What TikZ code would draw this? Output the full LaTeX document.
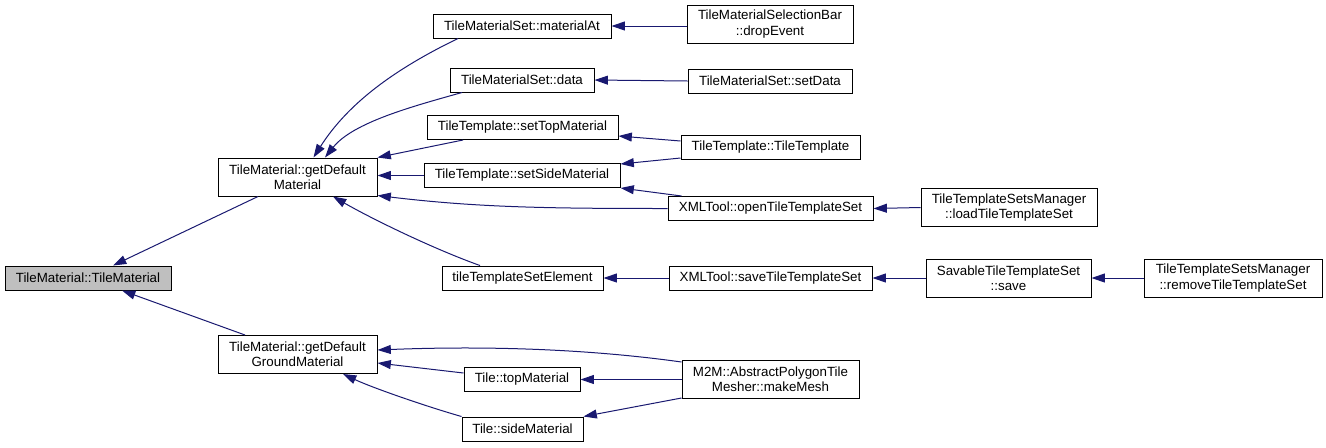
\documentclass[tikz,border=0pt]{standalone}
\usepackage{fontspec}
\setmainfont{Liberation Sans}
\usetikzlibrary{arrows.meta,calc}
\definecolor{edgeblue}{HTML}{191970}
\definecolor{boxgray}{HTML}{BFBFBF}
\tikzset{
  fn/.style={draw=black,line width=0.75pt,fill=white,inner sep=0pt,minimum height=18pt,
    align=center,font=\fontsize{10}{11.5}\selectfont},
  two/.style={minimum height=28.5pt},
  wd/.style={minimum width=#1*0.75pt},
  call/.style={draw=edgeblue,line width=0.75pt,-{Triangle[length=10pt,width=6.7pt]}}
}
\begin{document}
\begin{tikzpicture}[x=0.75pt,y=-0.75pt]
\useasboundingbox (0,0) rectangle (1326,447);
% callees
\node[fn,wd=166,fill=boxgray] (tm) at (88,278) {TileMaterial::TileMaterial};
\node[fn,two,wd=159] (gdm) at (297.5,177) {TileMaterial::getDefault\\Material};
\node[fn,two,wd=159] (gdgm) at (297.5,354.5) {TileMaterial::getDefault\\GroundMaterial};
% second column
\node[fn,wd=178] (matat) at (522,26) {TileMaterialSet::materialAt};
\node[fn,wd=144] (data) at (522,80) {TileMaterialSet::data};
\node[fn,wd=191] (settop) at (522.5,127.5) {TileTemplate::setTopMaterial};
\node[fn,wd=196] (setside) at (522,175.5) {TileTemplate::setSideMaterial};
\node[fn,wd=161] (elem) at (522.5,278) {tileTemplateSetElement};
\node[fn,wd=116] (topmat) at (522,379.5) {Tile::topMaterial};
\node[fn,wd=121] (sidemat) at (522.5,429) {Tile::sideMaterial};
% third column
\node[fn,two,wd=166] (drop) at (770,24) {TileMaterialSelectionBar\\::dropEvent};
\node[fn,wd=164] (setdata) at (770,81) {TileMaterialSet::setData};
\node[fn,wd=179] (tt) at (770.5,147.5) {TileTemplate::TileTemplate};
\node[fn,wd=205] (open) at (770.5,208.5) {XMLTool::openTileTemplateSet};
\node[fn,wd=203] (save) at (770.5,278) {XMLTool::saveTileTemplateSet};
\node[fn,two,wd=177] (mesh) at (770.5,379.5) {M2M::AbstractPolygonTile\\Mesher::makeMesh};
% callers further right
\node[fn,two,wd=176] (load) at (1009,207.5) {TileTemplateSetsManager\\::loadTileTemplateSet};
\node[fn,two,wd=165] (savable) at (1008.5,278) {SavableTileTemplateSet\\::save};
\node[fn,two,wd=178] (remove) at (1233,278) {TileTemplateSetsManager\\::removeTileTemplateSet};
% calls
\draw[call] ($(gdm.south)+(-39.5,0)$) -- ($(tm.north)+(25,0)$);
\draw[call] ($(gdgm.north)+(-52.5,0)$) -- ($(tm.south)+(34,0)$);
\draw[call] ($(matat.south)+(-64,0)$) .. controls +(-62,30) and +(35,-55) .. ($(gdm.north)+(16,0)$);
\draw[call] ($(data.south)+(-60,0)$) .. controls +(-50,14) and +(28,-35) .. ($(gdm.north)+(27.5,0)$);
\draw[call] ($(settop.south)+(-59.5,0)$) -- (gdm.north east);
\draw[call] (setside.west) -- (gdm.east |- setside.west);
\draw[call] (open.west) .. controls +(-120,0) and +(100,12) .. ($(gdm.south east)+(0,-1)$);
\draw[call] ($(elem.north)+(-42.5,0)$) .. controls +(-45,-16) and +(40,23) .. ($(gdm.south)+(35.5,0)$);
\draw[call] (drop.west |- matat.east) -- (matat.east);
\draw[call] (setdata.west) -- (data.east);
\draw[call] ($(tt.west)+(0,-6.5)$) -- ($(settop.east)+(0,8.5)$);
\draw[call] ($(tt.west)+(0,10.5)$) -- ($(setside.east)+(0,-11.5)$);
\draw[call] ($(open.north west)+(14,0)$) -- (setside.south east);
\draw[call] (load.west) -- (open.east);
\draw[call] (save.west) -- (elem.east);
\draw[call] (savable.west) -- (save.east);
\draw[call] (remove.west) -- (savable.east);
\draw[call] ($(mesh.north west)+(0,2)$) .. controls +(-100,-14) and +(100,-4) .. ($(gdgm.east)+(0,-4.5)$);
\draw[call] ($(topmat.west)+(0,-6.5)$) -- ($(gdgm.east)+(0,8.5)$);
\draw[call] (sidemat.north west) .. controls +(-35,-10) and +(30,14) .. ($(gdgm.south)+(45.5,0)$);
\draw[call] (mesh.west) -- (topmat.east);
\draw[call] ($(mesh.south west)+(0,-1)$) -- (sidemat.north east);
\end{tikzpicture}
\end{document}
